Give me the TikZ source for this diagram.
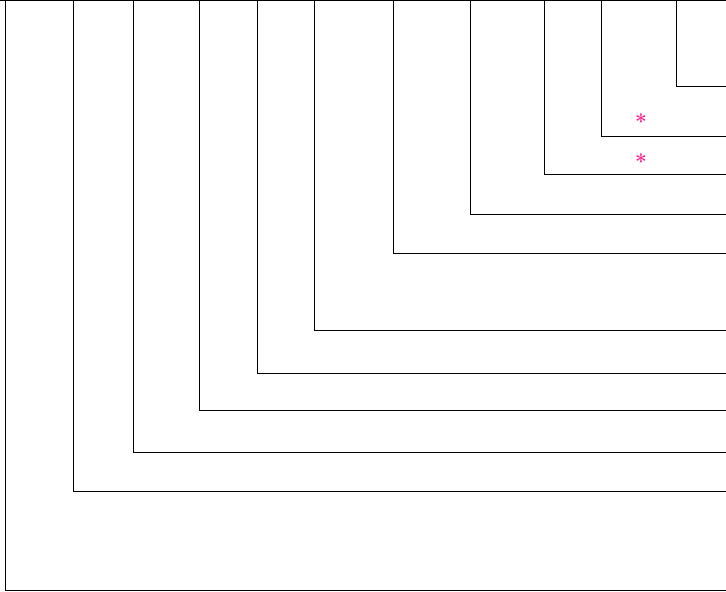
\documentclass[tikz,border=0pt]{standalone}
\usetikzlibrary{positioning}
\definecolor{starpink}{RGB}{250,30,140}
\begin{document}
\begin{tikzpicture}[
x=1pt, y=-1pt,
branch/.style={draw, line width=1pt},
star/.style={text=starpink, font=\bfseries\fontsize{21}{21}\selectfont, inner sep=0pt}
]
\useasboundingbox (0,0) rectangle (726,592);
\coordinate (tl) at (0,0.5);
\coordinate (tr) at (726,0.5);
\draw[branch] (tl) -- (tr);
\foreach \i/\x/\y in {1/5/590,2/73/491,3/133/452,4/199/410,5/257/373,6/314/330,7/393/253,8/470/214,9/544/174,10/601/136,11/676/86} {
  \coordinate (t\i) at (\x,0);
  \coordinate (e\i) at (726,\y);
  \draw[branch] (t\i) |- (e\i);
}
\node[star] (s1) at (641,122) {*};
\node[star] (s2) at (641,162) {*};
\end{tikzpicture}
\end{document}
